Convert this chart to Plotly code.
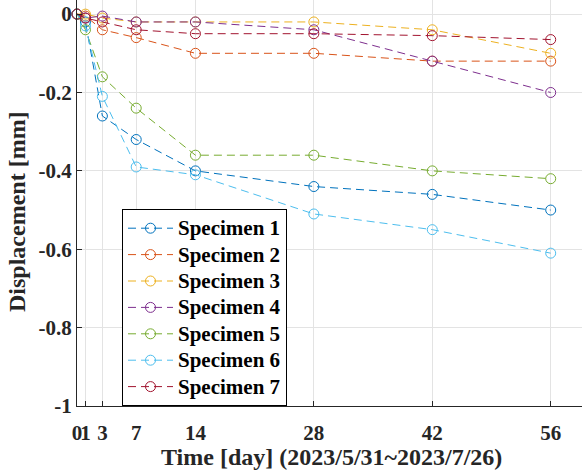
import plotly.graph_objects as go

days = [0, 1, 3, 7, 14, 28, 42, 56]
tick_labels = ["0", "1", "3", "7", "14", "28", "42", "56"]
y_ticks = [0, -0.2, -0.4, -0.6, -0.8, -1]
y_tick_labels = ["0", "-0.2", "-0.4", "-0.6", "-0.8", "-1"]

specimen_1 = [0, -0.02, -0.26, -0.32, -0.40, -0.44, -0.46, -0.50]
specimen_2 = [0, -0.005, -0.04, -0.06, -0.10, -0.10, -0.12, -0.12]
specimen_3 = [0, 0, -0.01, -0.02, -0.02, -0.02, -0.04, -0.10]
specimen_4 = [0, -0.01, -0.005, -0.02, -0.02, -0.04, -0.12, -0.20]
specimen_5 = [0, -0.04, -0.16, -0.24, -0.36, -0.36, -0.40, -0.42]
specimen_6 = [0, -0.03, -0.21, -0.39, -0.41, -0.51, -0.55, -0.61]
specimen_7 = [0, -0.01, -0.02, -0.04, -0.05, -0.05, -0.055, -0.065]

names = ["Specimen 1", "Specimen 2", "Specimen 3", "Specimen 4",
         "Specimen 5", "Specimen 6", "Specimen 7"]
series = [specimen_1, specimen_2, specimen_3, specimen_4,
          specimen_5, specimen_6, specimen_7]
colors = ["#0072BD", "#D95319", "#EDB120", "#7E2F8E",
          "#77AC30", "#4DBEEE", "#A2142F"]

x_title = "Time [day] (2023/5/31~2023/7/26)"
y_title = "Displacement [mm]"

FONT = "Liberation Serif, Times New Roman, serif"

fig = go.Figure()
for name, vals, c in zip(names, series, colors):
    fig.add_trace(go.Scatter(
        x=days, y=vals,
        name='<span style="font-size:21px">' + name + '</span>',
        mode="lines+markers",
        line=dict(color=c, width=1, dash="8px,5px"),
        marker=dict(symbol="circle-open", size=10, color=c, line=dict(width=1)),
        cliponaxis=False,
    ))

fig.update_layout(
    width=582, height=470,
    margin=dict(l=77, r=0, t=0, b=64, autoexpand=False),
    paper_bgcolor="white", plot_bgcolor="white",
    font=dict(family=FONT, size=21, color="#000000"),
    showlegend=True,
    legend=dict(
        x=(122 - 77) / 505, y=1 - 209 / 406, xanchor="left", yanchor="top",
        bgcolor="white", bordercolor="#000000", borderwidth=1,
        font=dict(family=FONT, size=18, color="#000000", weight="bold"),
        tracegroupgap=0, itemwidth=45,
    ),
    annotations=[
        dict(text=x_title, x=0.503, y=(406 - 457) / 406, xref="paper", yref="paper",
             xanchor="center", yanchor="middle", showarrow=False,
             font=dict(family=FONT, size=24, color="#262626", weight="bold")),
        dict(text=y_title, x=(17 - 77) / 505, y=(406 - 212) / 406, xref="paper", yref="paper",
             xanchor="center", yanchor="middle", showarrow=False, textangle=-90,
             font=dict(family=FONT, size=24, color="#262626", weight="bold")),
    ],
)

fig.update_xaxes(
    range=[0, 59.7], automargin=False,
    tickmode="array", tickvals=days, ticktext=tick_labels,
    tickangle=0,
    tickfont=dict(family=FONT, size=21, color="#262626", weight="bold"),
    showgrid=True, gridcolor="#e3e3e3", gridwidth=1,
    zeroline=False,
    showline=True, linecolor="#262626", linewidth=1,
    ticks="inside", ticklen=5, tickcolor="#262626",
    ticklabelstandoff=8,
)
fig.update_yaxes(
    range=[-1, 0.036], automargin=False,
    tickmode="array", tickvals=y_ticks, ticktext=y_tick_labels,
    tickfont=dict(family=FONT, size=21, color="#262626", weight="bold"),
    showgrid=True, gridcolor="#e3e3e3", gridwidth=1,
    zeroline=False,
    showline=True, linecolor="#262626", linewidth=1,
    ticks="inside", ticklen=5, tickcolor="#262626",
)

fig.write_html(
    "out.html",
    config={"displayModeBar": False},
    post_script="document.body.style.margin='0';document.body.style.overflow='hidden';",
)
